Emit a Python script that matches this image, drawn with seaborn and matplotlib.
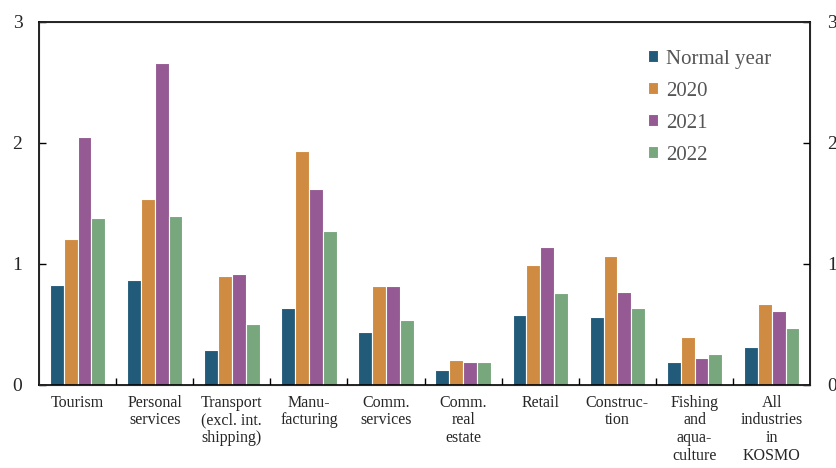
import matplotlib
matplotlib.use('Agg')
import matplotlib.pyplot as plt
import pandas as pd
import seaborn as sns

categories = ['Tourism', 'Personal\nservices', 'Transport\n(excl. int.\nshipping)', 'Manu-\nfacturing',
              'Comm.\nservices', 'Comm.\nreal\nestate', 'Retail', 'Construc-\ntion',
              'Fishing\nand\naqua-\nculture', 'All\nindustries\nin\nKOSMO']
series = ['Normal year', '2020', '2021', '2022']
normal_year = [0.83, 0.87, 0.29, 0.64, 0.44, 0.12, 0.58, 0.56, 0.19, 0.31]
y2020 = [1.21, 1.54, 0.90, 1.93, 0.82, 0.21, 0.99, 1.07, 0.40, 0.67]
y2021 = [2.05, 2.66, 0.92, 1.62, 0.82, 0.19, 1.14, 0.77, 0.22, 0.61]
y2022 = [1.38, 1.40, 0.50, 1.27, 0.54, 0.19, 0.76, 0.64, 0.26, 0.47]
colors = ['#225a7a', '#cf8b41', '#955a93', '#78a77d']

rows = []
for name, vals in zip(series, [normal_year, y2020, y2021, y2022]):
    for cat, v in zip(categories, vals):
        rows.append({'category': cat, 'series': name, 'value': v})
df = pd.DataFrame(rows)

sns.set_style('white')
plt.rcParams['font.family'] = ['Liberation Serif', 'DejaVu Serif']

fig = plt.figure(figsize=(8.37, 4.68), dpi=100)
ax = fig.add_axes([0.0466, 0.1774, 0.9214, 0.7756])
sns.barplot(data=df, x='category', y='value', hue='series', hue_order=series,
            palette=colors, width=0.72, edgecolor='white', linewidth=0.8,
            saturation=1, ax=ax)

ax.set_ylim(0, 3)
ax.set_xlim(-0.5, len(categories) - 0.5)
ax.set_yticks([0, 1, 2, 3])
ax.set_xlabel('')
ax.set_ylabel('')
for s in ax.spines.values():
    s.set_color('black')
    s.set_linewidth(1.2)
ax.tick_params(axis='y', direction='in', length=5, width=1, left=True, labelsize=14, pad=12, color='black')
ax.set_xticks(range(len(categories)))
ax.set_xticklabels(categories, fontsize=11.5, linespacing=1.15)
ax.tick_params(axis='x', length=0, pad=7)
# boundary ticks between categories
ax.set_xticks([i + 0.5 for i in range(len(categories) - 1)], minor=True)
ax.tick_params(axis='x', which='minor', direction='in', length=5, width=1, bottom=True, color='black')

ax2 = ax.twinx()
ax2.set_ylim(0, 3)
ax2.set_yticks([0, 1, 2, 3])
ax2.tick_params(axis='y', direction='in', length=5, width=1, right=True, labelsize=14, pad=12, color='black')
ax2.grid(False)

leg = ax.legend(loc='upper left', bbox_to_anchor=(0.765, 0.975), frameon=False, fontsize=15,
                handlelength=0.5, handleheight=0.5, handletextpad=0.4, labelspacing=0.62)
for t in leg.get_texts():
    t.set_color('#555555')

fig.savefig('out.png', dpi=100)
